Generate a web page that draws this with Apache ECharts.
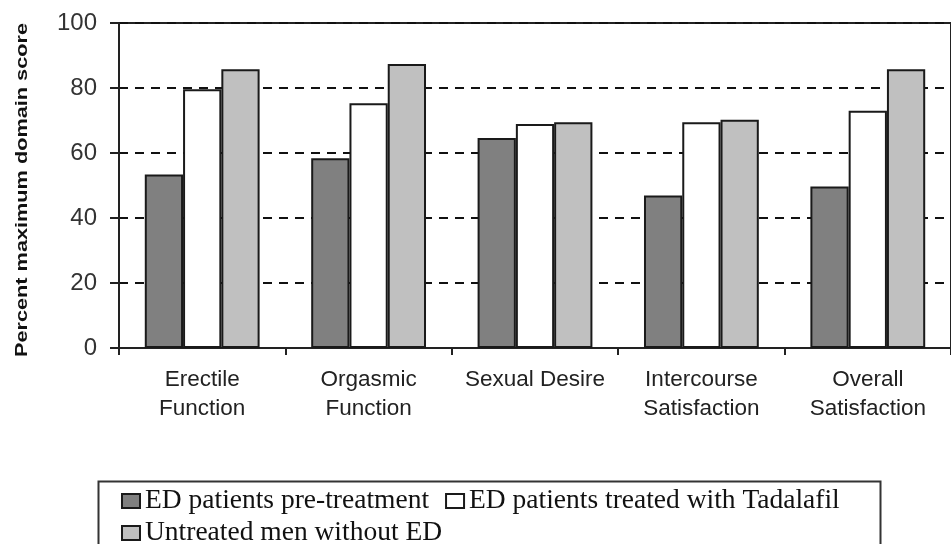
<!DOCTYPE html>
<html>
<head>
<meta charset="utf-8">
<script src="https://cdn.jsdelivr.net/npm/echarts@6/dist/echarts.min.js"></script>
<style>html,body{margin:0;padding:0;background:#fff;}#c{width:951px;height:544px;}</style>
</head>
<body>
<div id="c"></div>
<script>
const categories = ['Erectile\nFunction', 'Orgasmic\nFunction', 'Sexual Desire', 'Intercourse\nSatisfaction', 'Overall\nSatisfaction'];
const seriesNames = ['ED patients pre-treatment', 'ED patients treated with Tadalafil', 'Untreated men without ED'];
const preTreatment = [53.4, 58.4, 64.6, 46.9, 49.7];
const tadalafil = [79.6, 75.3, 68.9, 69.5, 73.0];
const untreated = [85.8, 87.4, 69.5, 70.2, 85.8];
const yTicks = [0, 20, 40, 60, 80, 100];
const yLabel = 'Percent maximum domain score';

const colors = ['#808080', '#ffffff', '#c0c0c0'];
const chart = echarts.init(document.getElementById('c'), null, {renderer: 'canvas'});

const ctx = document.createElement('canvas').getContext('2d');
const yFont = 'bold 17px "Liberation Sans", Arial, sans-serif';
ctx.font = yFont;
const yScale = 334 / ctx.measureText(yLabel).width;

function bar(name, data, color) {
  return {
    name: name, type: 'bar', data: data,
    barGap: '0%', barCategoryGap: '31%',
    itemStyle: {color: color, borderColor: '#1a1a1a', borderWidth: 2},
    emphasis: {disabled: true}
  };
}

chart.setOption({
  animation: false,
  grid: {left: 119, top: 23, width: 837, height: 325, show: true, borderColor: '#222', borderWidth: 2, backgroundColor: 'transparent'},
  xAxis: {
    type: 'category', data: categories,
    axisLine: {lineStyle: {color: '#222', width: 2}},
    axisTick: {show: true, length: 7, lineStyle: {color: '#222', width: 2}},
    axisLabel: {margin: 17, fontFamily: '"Liberation Sans", Arial, sans-serif', fontSize: 22.5, color: '#222', lineHeight: 29, interval: 0}
  },
  yAxis: {
    type: 'value', min: yTicks[0], max: yTicks[yTicks.length - 1], interval: 20,
    axisLine: {show: true, lineStyle: {color: '#222', width: 2}},
    axisTick: {show: true, length: 9, lineStyle: {color: '#222', width: 2}},
    axisLabel: {margin: 22, fontFamily: '"Liberation Sans", Arial, sans-serif', fontSize: 24, color: '#333'},
    splitLine: {show: true, lineStyle: {color: '#111', width: 2, type: [9, 7]}}
  },
  legend: {
    left: 116, top: 482, width: 780, orient: 'horizontal',
    itemWidth: 18, itemHeight: 14, itemGap: 4, icon: 'rect', selectedMode: false,
    textStyle: {fontFamily: '"Liberation Serif", "Times New Roman", serif', fontSize: 27.5, color: '#111', lineHeight: 26, padding: [0, 12, 0, 0]},
    data: seriesNames
  },
  graphic: [
    {type: 'rect', left: 96, top: 479, shape: {width: 782, height: 80}, style: {fill: 'none', stroke: '#333', lineWidth: 2}, silent: true},
    {type: 'text', x: 22, y: 190, rotation: Math.PI / 2, scaleX: yScale, scaleY: 1,
     style: {text: yLabel, font: yFont, fill: '#111', align: 'center', verticalAlign: 'middle'}, silent: true}
  ],
  series: [
    bar(seriesNames[0], preTreatment, colors[0]),
    bar(seriesNames[1], tadalafil, colors[1]),
    bar(seriesNames[2], untreated, colors[2])
  ]
});
</script>
</body>
</html>
